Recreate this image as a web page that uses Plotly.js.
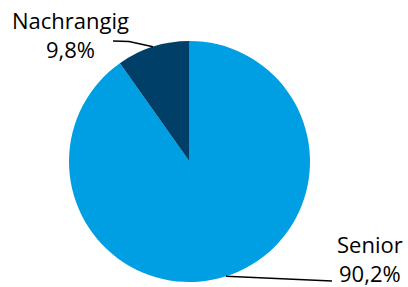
<!DOCTYPE html>
<html><head><meta charset="utf-8">
<script src="https://cdn.plot.ly/plotly-3.0.1.min.js"></script>
<style>html,body{margin:0;padding:0;background:#fff;}#chart{width:408px;height:287px;}</style>
</head><body><div id="chart"></div>
<script>
// slices in drawing order, clockwise from 12 o'clock
var labels = ['Senior', 'Nachrangig'];
var values = [90.2, 9.8];
var colors = ['#009FE3', '#003F68'];

var W = 408, H = 287;
// pie placement (pixels)
var cx = 189.5, cy = 161.5, R = 120.5;
var dom = {x: [(cx - R) / W, (cx + R) / W], y: [1 - (cy + R) / H, 1 - (cy - R) / H]};

function pct(v) { return v.toFixed(1).replace('.', ',') + '%'; }
var total = values.reduce(function (a, b) { return a + b; }, 0);
var mids = [], cum = 0;
values.forEach(function (v) { mids.push((cum + v / 2) / total); cum += v; });
function edge(f) {
  var t = 2 * Math.PI * f;
  return [cx + R * Math.sin(t), cy - R * Math.cos(t)];
}
function px(x) { return x / W; }
function py(y) { return 1 - y / H; }

// label layout (pixels): text centre and leader-line points on the text side
var labelPos = {
  'Senior': {tx: 370, ty: 258.5, pts: [[332, 281]]},
  'Nachrangig': {tx: 70, ty: 34.5, pts: [[129, 41.5], [113, 41]]}
};

var shapes = [], annotations = [];
labels.forEach(function (lab, i) {
  var e = edge(mids[i]);
  var p = labelPos[lab];
  var all = [e].concat(p.pts);
  var d = all.map(function (q, k) { return (k ? 'L' : 'M') + px(q[0]) + ',' + py(q[1]); }).join(' ');
  shapes.push({type: 'path', xref: 'paper', yref: 'paper', path: d, line: {color: '#000', width: 1.5}});
  annotations.push({
    xref: 'paper', yref: 'paper', x: px(p.tx), y: py(p.ty), xanchor: 'center', yanchor: 'middle',
    showarrow: false, align: 'center', borderpad: 0,
    text: lab + '<br>' + pct(values[i]),
    font: {family: 'Open Sans, sans-serif', size: 22, color: '#000'}
  });
});

Plotly.newPlot('chart', [{
  type: 'pie', labels: labels, values: values, sort: false, direction: 'clockwise', rotation: 0,
  marker: {colors: colors, line: {width: 0}}, textinfo: 'none', hoverinfo: 'none', domain: dom
}], {
  width: W, height: H, margin: {l: 0, r: 0, t: 0, b: 0}, showlegend: false,
  paper_bgcolor: '#fff', shapes: shapes, annotations: annotations
}, {staticPlot: true, displayModeBar: false});
</script></body></html>
